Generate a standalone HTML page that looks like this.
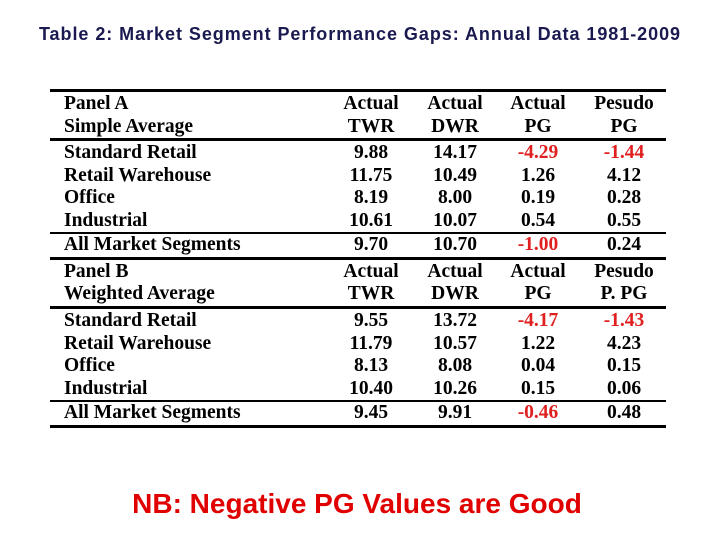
<!DOCTYPE html>
<html><head><meta charset="utf-8"><style>
body{margin:0;width:720px;height:540px;background:#fff;position:relative;overflow:hidden;font-family:"Liberation Sans",sans-serif}
.title{position:absolute;left:0;width:720px;top:24px;text-align:center;font-size:18px;letter-spacing:0.95px;font-weight:bold;color:#1a1a50;white-space:nowrap}
.nb{position:absolute;left:0;width:714px;top:488px;text-align:center;font-size:28px;font-weight:bold;color:#e00000}
.line{position:absolute;left:50px;width:616px;background:#000}
.row{position:absolute;left:50px;width:616px;height:23px;font-family:"Liberation Serif",serif;font-weight:bold;font-size:19.5px;line-height:23px}
.row span{position:absolute;top:0;white-space:nowrap}
.lab{left:14px}
.c{width:90px;text-align:center;margin-left:-45px}
.r{color:#e02020}
</style></head><body>
<div class="title">Table 2: Market Segment Performance Gaps: Annual Data 1981-2009</div>
<div id="tbl"></div>
<div class="nb">NB: Negative PG Values are Good</div>
<script>
const lines=[[89,3],[138,3],[232,2],[257,3],[306,3],[400,2],[425,3]];
const rows=[
[104,"Panel A",["Actual","Actual","Actual","Pesudo"]],
[127,"Simple Average",["TWR","DWR","PG","PG"]],
[153,"Standard Retail",["9.88","14.17","-4.29","-1.44"],[2,3]],
[176,"Retail Warehouse",["11.75","10.49","1.26","4.12"]],
[198,"Office",["8.19","8.00","0.19","0.28"]],
[221,"Industrial",["10.61","10.07","0.54","0.55"]],
[245,"All Market Segments",["9.70","10.70","-1.00","0.24"],[2]],
[272,"Panel B",["Actual","Actual","Actual","Pesudo"]],
[294,"Weighted Average",["TWR","DWR","PG","P. PG"]],
[321,"Standard Retail",["9.55","13.72","-4.17","-1.43"],[2,3]],
[344,"Retail Warehouse",["11.79","10.57","1.22","4.23"]],
[366,"Office",["8.13","8.08","0.04","0.15"]],
[389,"Industrial",["10.40","10.26","0.15","0.06"]],
[413,"All Market Segments",["9.45","9.91","-0.46","0.48"],[2]]
];
const colX=[321,405,488,574];
const t=document.getElementById('tbl');
lines.forEach(([y,h],i)=>{const d=document.createElement('div');d.className='line';d.style.top=y+'px';d.style.height=h+'px';


t.appendChild(d);});
rows.forEach(([y,lab,vals,red])=>{const r=document.createElement('div');r.className='row';r.style.top=(y-12)+'px';


let s=document.createElement('span');s.className='lab';s.textContent=lab;


r.appendChild(s);
vals.forEach((v,i)=>{const c=document.createElement('span');c.className='c'+(red&&red.includes(i)?' r':'');c.style.left=colX[i]+'px';c.textContent=v;


r.appendChild(c);});
t.appendChild(r);});
</script>
</body></html>
